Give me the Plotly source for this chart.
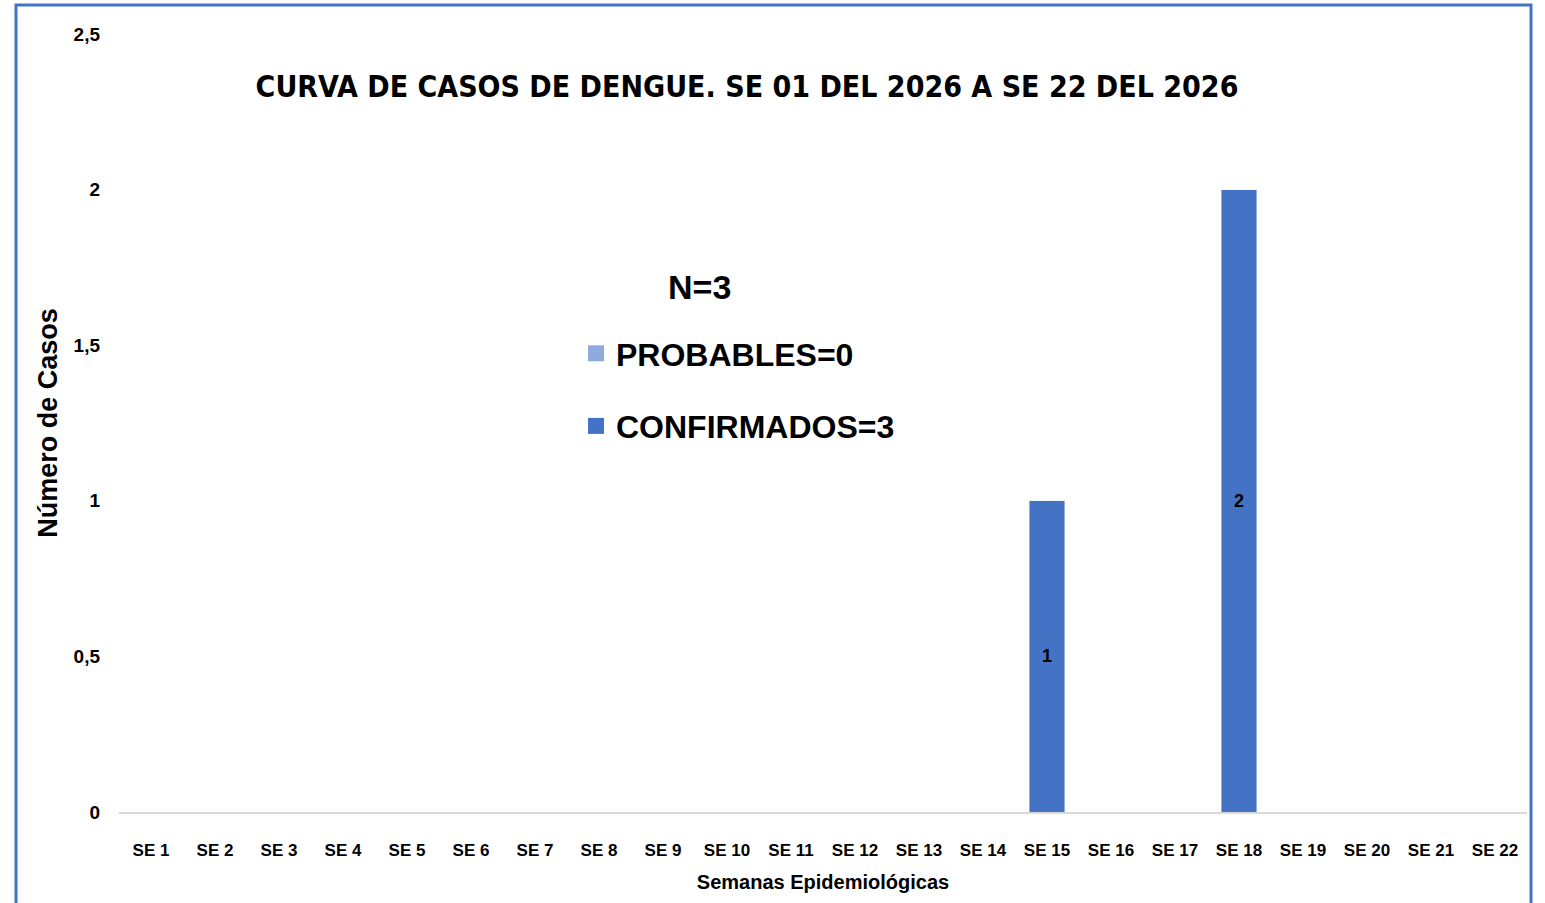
import plotly.graph_objects as go

weeks = [f"SE {i}" for i in range(1, 23)]
probables = [0] * 22
confirmados = [0, 0, 0, 0, 0, 0, 0, 0, 0, 0, 0, 0, 0, 0, 1, 0, 0, 2, 0, 0, 0, 0]
title_text = "CURVA DE CASOS DE DENGUE. SE 01 DEL 2026 A SE 22 DEL 2026"
legend_title = "N=3"
name_prob = "PROBABLES=0"
name_conf = "CONFIRMADOS=3"
x_title = "Semanas Epidemiológicas"
y_title = "Número de Casos"

FONT = "Liberation Sans, Arial, sans-serif"
TFONT = "DejaVu Sans Condensed, Liberation Sans, sans-serif"
W, H = 1545, 903
# plot area in pixels: x 119..1527, y 34..812
L, R, T, B = 119, 1545 - 1527, 34, 903 - 812
pw, ph = W - L - R, H - T - B

def px_x(x):  # pixel -> paper x
    return (x - L) / pw

def px_y(y):  # pixel -> paper y
    return (H - B - y) / ph

fig = go.Figure()
fig.add_trace(go.Bar(x=weeks, y=probables, name=name_prob, marker_color="#8FAADC",
                     width=0.56, showlegend=False))
fig.add_trace(go.Bar(
    x=weeks, y=confirmados, name=name_conf, marker_color="#4472C4", width=0.56,
    showlegend=False,
    text=[str(v) if v else "" for v in confirmados], textposition="inside",
    insidetextanchor="middle", textangle=0,
    textfont=dict(color="black", size=18, family=FONT, weight="bold"),
))
# legend entries with large square swatches
fig.add_trace(go.Scatter(x=[None], y=[None], mode="markers", name=name_prob, legendgroup="p",
                         marker=dict(symbol="square", size=29, color="#8FAADC")))
fig.add_trace(go.Scatter(x=[None], y=[None], mode="markers", name=name_conf, legendgroup="c",
                         marker=dict(symbol="square", size=29, color="#4472C4")))

fig.update_layout(
    width=W, height=H, barmode="stack", separators=",.",
    margin=dict(l=L, r=R, t=T, b=B),
    paper_bgcolor="white", plot_bgcolor="white",
    font=dict(family=FONT, color="black"),
    title=dict(text=title_text, x=747 / W, xanchor="center",
               y=1 - 86 / H, yanchor="middle", yref="container",
               font=dict(size=30, family=TFONT, weight="bold", color="black")),
    legend=dict(x=px_x(576), xanchor="left", y=px_y(326), yanchor="top",
                bgcolor="rgba(0,0,0,0)", font=dict(size=32, family=FONT, weight="bold"),
                itemsizing="trace", tracegroupgap=28, traceorder="grouped"),
    annotations=[dict(text=legend_title, xref="paper", yref="paper",
                      x=px_x(699), y=px_y(287), xanchor="center", yanchor="middle",
                      showarrow=False, font=dict(size=34, family=FONT, weight="bold"))],
    xaxis=dict(showline=True, linecolor="#d9d9d9", linewidth=2, ticks="",
               tickfont=dict(size=17, family=FONT, weight="bold"), ticklabelstandoff=22,
               title=dict(text=x_title, standoff=16,
                          font=dict(size=20, family=FONT, weight="bold"))),
    yaxis=dict(range=[0, 2.5], dtick=0.5, showgrid=False, zeroline=False, showline=False,
               tickfont=dict(size=19, family=FONT, weight="bold"), ticklabelstandoff=18,
               title=dict(text=y_title, standoff=8,
                          font=dict(size=27, family=FONT, weight="bold"))),
    shapes=[dict(type="rect", xref="paper", yref="paper",
                 x0=px_x(16), x1=px_x(1531), y0=px_y(915), y1=px_y(5),
                 line=dict(color="#4472C4", width=3), fillcolor="rgba(0,0,0,0)", layer="above")],
)

fig.write_html("out.html", config={"displayModeBar": False},
               post_script="document.body.style.margin='0';")
